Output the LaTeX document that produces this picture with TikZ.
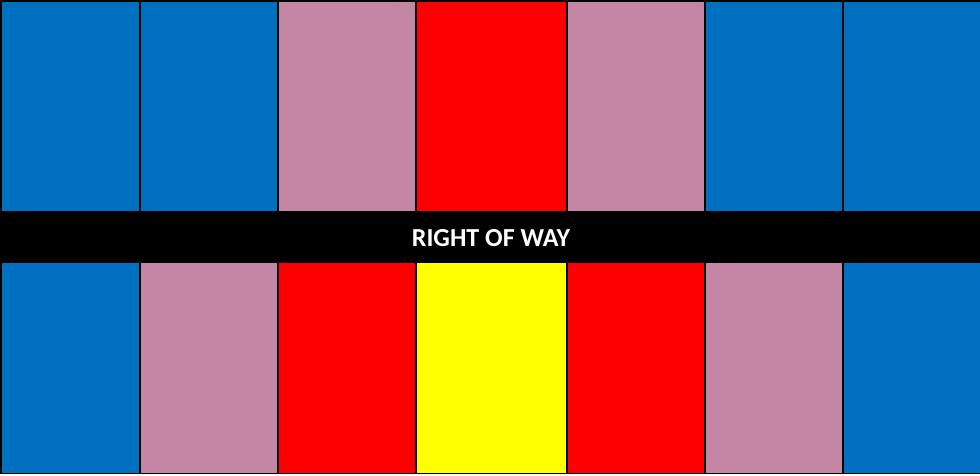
\documentclass[tikz,border=0pt]{standalone}
\usepackage{fontspec}
\setmainfont{Carlito}
\definecolor{cblue}{RGB}{0,112,192}
\definecolor{cpink}{RGB}{195,134,165}
\definecolor{cred}{RGB}{255,0,0}
\definecolor{cyellow}{RGB}{255,255,0}
\begin{document}
\begin{tikzpicture}[x=1pt,y=-1pt,
  cell/.style={draw=black,line width=1.6pt}]
\useasboundingbox (0,0) rectangle (980,475);
% top row
\foreach \a/\b/\c in {1/140/cblue,140/278/cblue,278/416/cpink,416/567/cred,567/705/cpink,705/843/cblue,843/982/cblue}{
  \filldraw[cell,fill=\c] (\a,1) rectangle (\b,212);
}
% bottom row
\foreach \a/\b/\c in {1/140/cblue,140/278/cpink,278/416/cred,416/567/cyellow,567/705/cred,705/843/cpink,843/982/cblue}{
  \filldraw[cell,fill=\c] (\a,262) rectangle (\b,473.5);
}
% bar
\fill[black] (0,212) rectangle (980,262);
\node[text=white,font=\bfseries\fontsize{26}{30}\selectfont] (row) at (491,238) {RIGHT OF WAY};
\end{tikzpicture}
\end{document}
